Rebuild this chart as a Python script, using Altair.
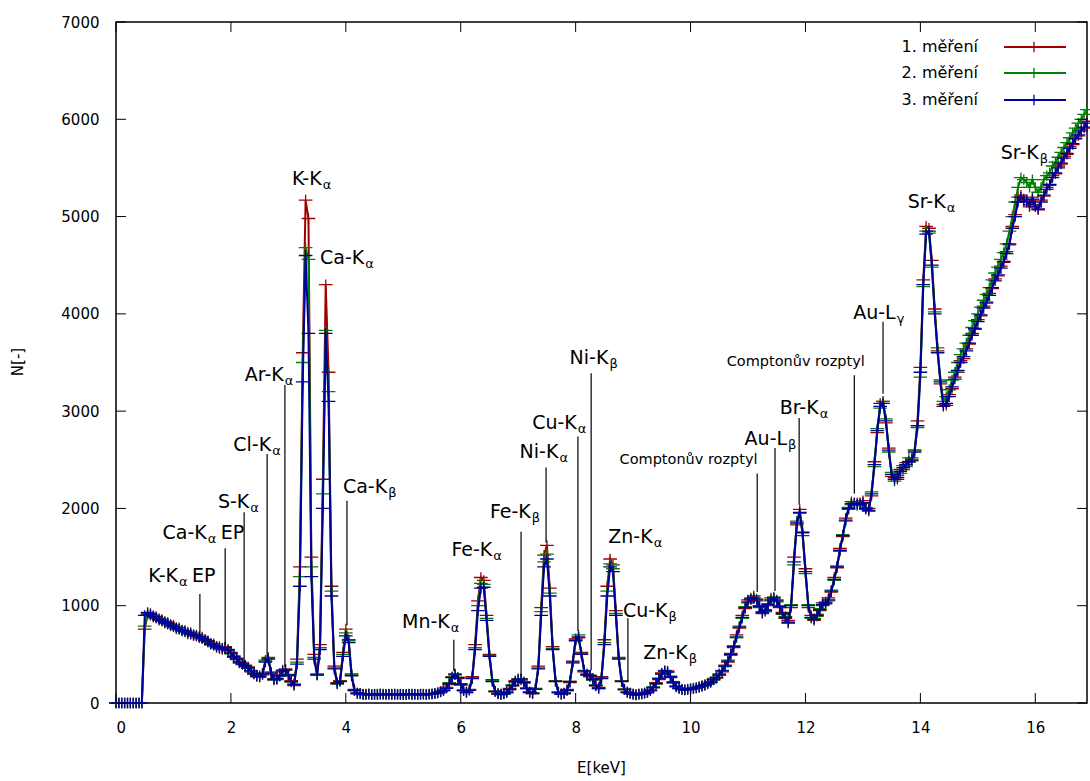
import altair as alt
import pandas as pd

STEP_KEV = 0.05

# 1. měření (red)
counts_1 = [
    0, 0, 0, 0, 0, 0, 0, 0, 0, 0, 760, 910, 920, 880, 890, 850, 860, 820, 830, 790,
    800, 760, 775, 740, 745, 710, 725, 690, 700, 670, 680, 640, 640, 600, 610, 570, 580, 550, 580, 535,
    520, 470, 460, 410, 410, 375, 370, 320, 310, 270, 280, 290, 430, 470, 300, 250, 240, 290, 320, 350,
    280, 230, 180, 450, 1400, 3600, 5170, 4980, 1500, 500, 300, 600, 2300, 4300, 3400, 1200, 380, 210, 230, 520,
    760, 650, 300, 140, 95, 100, 85, 92, 88, 90, 85, 92, 88, 94, 90, 86, 92, 85, 91, 88,
    90, 84, 91, 92, 86, 90, 88, 93, 85, 94, 90, 102, 100, 120, 125, 160, 190, 270, 300, 250,
    200, 125, 115, 140, 270, 600, 1050, 1290, 1260, 900, 500, 240, 115, 100, 85, 100, 105, 150, 175, 230,
    250, 235, 220, 145, 115, 95, 150, 380, 980, 1520, 1620, 1180, 580, 230, 105, 95, 95, 140, 210, 430,
    660, 670, 520, 320, 300, 270, 250, 175, 160, 270, 650, 1200, 1480, 1420, 950, 470, 230, 135, 115, 95,
    95, 80, 95, 90, 105, 105, 135, 155, 210, 240, 310, 320, 330, 260, 220, 165, 155, 135, 140, 135,
    150, 145, 160, 160, 180, 180, 205, 210, 245, 255, 300, 320, 390, 420, 510, 570, 700, 770, 900, 970,
    1060, 1060, 1100, 1050, 1000, 920, 960, 1000, 1080, 1070, 1060, 980, 930, 870, 850, 980, 1500, 1830, 1990, 1720,
    1380, 980, 900, 850, 910, 950, 1030, 1020, 1080, 1140, 1290, 1390, 1590, 1710, 1900, 1990, 2070, 2040, 2060, 2040,
    2080, 1990, 2000, 2130, 2480, 2780, 3080, 3100, 2880, 2620, 2330, 2320, 2300, 2400, 2400, 2470, 2480, 2520, 2600, 2900,
    3450, 4350, 4900, 4880, 4550, 4050, 3620, 3280, 3070, 3060, 3170, 3230, 3350, 3400, 3520, 3540, 3640, 3690, 3800, 3840,
    3940, 3980, 4080, 4110, 4210, 4260, 4360, 4390, 4490, 4530, 4640, 4710, 4900, 5020, 5200, 5220, 5160, 5170, 5100, 5200,
    5120, 5070, 5170, 5210, 5300, 5320, 5420, 5440, 5520, 5540, 5620, 5640, 5720, 5740, 5820, 5830, 5900, 5910, 5980,
]

# 2. měření (green)
counts_2 = [
    0, 0, 0, 0, 0, 0, 0, 0, 0, 0, 790, 920, 900, 900, 870, 870, 840, 840, 810, 810,
    780, 780, 755, 750, 730, 730, 705, 705, 685, 685, 660, 655, 625, 615, 590, 585, 560, 565, 565, 550,
    505, 485, 445, 425, 395, 390, 355, 335, 295, 285, 265, 305, 440, 460, 320, 235, 255, 275, 340, 335,
    295, 215, 195, 420, 1300, 3500, 4680, 4560, 1400, 470, 285, 570, 2150, 3830, 3200, 1150, 360, 195, 225, 500,
    720, 640, 290, 125, 105, 92, 93, 86, 95, 88, 92, 85, 96, 87, 89, 93, 86, 94, 89, 92,
    88, 91, 90, 86, 93, 88, 90, 91, 89, 88, 96, 95, 108, 112, 135, 155, 210, 265, 295, 265,
    185, 135, 105, 135, 260, 570, 1000, 1230, 1220, 870, 490, 230, 125, 92, 95, 92, 115, 135, 185, 215,
    245, 250, 205, 155, 105, 105, 145, 360, 940, 1450, 1530, 1130, 560, 225, 115, 88, 105, 125, 225, 410,
    650, 700, 510, 335, 285, 285, 235, 185, 145, 260, 620, 1150, 1430, 1380, 920, 460, 225, 145, 105, 105,
    88, 88, 87, 98, 98, 115, 125, 165, 195, 255, 295, 335, 315, 275, 205, 175, 145, 145, 130, 145,
    140, 155, 150, 170, 170, 190, 195, 220, 235, 265, 285, 335, 375, 440, 490, 590, 670, 790, 870, 990,
    1030, 1080, 1070, 1070, 980, 940, 940, 1020, 1050, 1090, 1040, 1000, 910, 890, 820, 1010, 1420, 1870, 1950, 1760,
    1330, 1010, 870, 870, 890, 970, 1000, 1040, 1050, 1160, 1260, 1410, 1560, 1730, 1870, 2010, 2040, 2060, 2030, 2060,
    2050, 2010, 1970, 2170, 2430, 2820, 3030, 3100, 2920, 2580, 2370, 2280, 2340, 2360, 2440, 2430, 2520, 2490, 2600, 2830,
    3350, 4280, 4850, 4830, 4480, 4020, 3650, 3320, 3100, 3150, 3220, 3320, 3400, 3500, 3580, 3640, 3700, 3780, 3860, 3930,
    4000, 4070, 4140, 4200, 4270, 4350, 4420, 4480, 4560, 4630, 4720, 4850, 5000, 5150, 5300, 5400, 5380, 5350, 5300, 5380,
    5300, 5250, 5300, 5380, 5420, 5450, 5520, 5560, 5610, 5660, 5710, 5760, 5810, 5860, 5910, 5960, 6000, 6050, 6100,
]

# 3. měření (blue)
counts_3 = [
    0, 0, 0, 0, 0, 0, 0, 0, 0, 0, 900, 930, 910, 890, 875, 860, 845, 830, 815, 800,
    785, 770, 760, 745, 735, 720, 710, 700, 690, 680, 665, 650, 630, 610, 595, 580, 565, 560, 570, 545,
    510, 480, 450, 420, 400, 385, 360, 330, 300, 280, 270, 300, 420, 450, 310, 240, 250, 280, 330, 340,
    290, 220, 190, 400, 1200, 3300, 4600, 3800, 1300, 450, 290, 550, 2000, 3800, 3100, 1100, 350, 200, 220, 480,
    690, 620, 280, 130, 100, 95, 90, 88, 92, 85, 90, 87, 93, 89, 86, 91, 88, 92, 87, 90,
    85, 89, 93, 88, 90, 86, 92, 89, 87, 91, 94, 98, 105, 115, 130, 150, 200, 260, 290, 260,
    190, 130, 110, 130, 250, 550, 950, 1180, 1190, 850, 480, 220, 120, 95, 90, 95, 110, 140, 180, 220,
    240, 245, 210, 150, 110, 100, 140, 350, 900, 1400, 1480, 1100, 550, 220, 110, 90, 100, 130, 220, 420,
    640, 680, 500, 330, 290, 280, 240, 180, 150, 250, 600, 1100, 1400, 1350, 900, 450, 220, 140, 110, 100,
    90, 85, 90, 95, 100, 110, 130, 160, 200, 250, 300, 330, 320, 270, 210, 170, 150, 140, 135, 140,
    145, 150, 155, 165, 175, 185, 200, 215, 240, 260, 290, 330, 380, 430, 500, 580, 680, 780, 880, 980,
    1040, 1070, 1080, 1060, 990, 930, 950, 1010, 1060, 1080, 1050, 990, 920, 880, 830, 1000, 1450, 1850, 1960, 1750,
    1350, 1000, 880, 860, 900, 960, 1010, 1030, 1060, 1150, 1270, 1400, 1570, 1720, 1880, 2000, 2050, 2050, 2040, 2050,
    2060, 2000, 1980, 2150, 2450, 2800, 3050, 3080, 2900, 2600, 2350, 2300, 2320, 2380, 2420, 2450, 2480, 2500, 2580, 2850,
    3400, 4300, 4820, 4850, 4500, 4000, 3600, 3300, 3050, 3080, 3150, 3250, 3330, 3420, 3500, 3560, 3620, 3700, 3780, 3850,
    3920, 3990, 4060, 4120, 4190, 4270, 4340, 4400, 4470, 4540, 4620, 4720, 4880, 5000, 5150, 5200, 5180, 5150, 5120, 5180,
    5100, 5080, 5150, 5220, 5280, 5330, 5400, 5450, 5500, 5550, 5600, 5650, 5700, 5750, 5800, 5840, 5880, 5920, 5960,
]

assert len(counts_1) == len(counts_2) == len(counts_3), (len(counts_1), len(counts_2), len(counts_3))

series_names = ["1. měření", "2. měření", "3. měření"]
series_colors = ["#a00000", "#008000", "#00009a"]

x_ticks = [0, 2, 4, 6, 8, 10, 12, 14, 16]
y_ticks = [0, 1000, 2000, 3000, 4000, 5000, 6000, 7000]

# peak annotations: text before subscript, subscript, text after, anchor (keV), label height (counts)
ann_pre = ["K-K", "Ca-K", "S-K", "Cl-K", "Ar-K", "K-K", "Ca-K", "Ca-K", "Mn-K", "Fe-K", "Fe-K",
           "Ni-K", "Cu-K", "Ni-K", "Zn-K", "Cu-K", "Zn-K", "Au-L", "Br-K", "Au-L", "Sr-K", "Sr-K"]
ann_sub = ["α", "α", "α", "α", "α", "α", "α", "β", "α", "α", "β",
           "α", "α", "β", "α", "β", "β", "β", "α", "γ", "α", "β"]
ann_post = ["EP", "EP", "", "", "", "", "", "", "", "", "",
            "", "", "", "", "", "", "", "", "", "", ""]
ann_x = [1.08, 1.58, 2.32, 2.70, 2.92, 3.58, 4.32, 4.72, 5.81, 6.55, 7.22,
         7.70, 8.02, 8.57, 9.34, 9.60, 9.95, 11.68, 12.23, 13.57, 14.44, 16.06]
ann_y = [1306, 1748, 2066, 2652, 3372, 5387, 4575, 2220, 833, 1573, 1963,
         2580, 2878, 3547, 1706, 946, 514, 2714, 3033, 4009, 5150, 5654]

compton_text = ["Comptonův rozptyl", "Comptonův rozptyl"]
compton_x = [9.965, 11.83]
compton_y = [2498, 3505]

# pointer lines: energy, top, bottom
line_x = [1.46, 1.90, 2.23, 2.63, 2.94, 4.02, 5.88, 7.05, 7.485, 8.04, 8.27, 8.91, 11.16, 11.47, 11.89, 12.85, 13.35]
line_top = [1120, 1590, 1960, 2560, 3270, 2080, 650, 1760, 2420, 2740, 3390, 870, 2360, 2620, 2930, 3370, 3920]
line_bottom = [700, 600, 400, 470, 370, 800, 330, 280, 1650, 740, 340, 220, 1140, 1150, 2040, 2150, 3180]

energy = [round(i * STEP_KEV, 2) for i in range(len(counts_3))]

FONT = "DejaVu Sans"
W, H = 971, 681
X_MAX = 16.9

x_scale = alt.Scale(domain=[0, X_MAX], nice=False, zero=False)
y_scale = alt.Scale(domain=[0, 7000], nice=False, zero=False)
x_axis = alt.Axis(values=x_ticks, ticks=False, domain=False, grid=False, title=None, format="d",
                  labelFont=FONT, labelFontSize=15, labelColor="black", labelPadding=17)
y_axis = alt.Axis(values=y_ticks, ticks=False, domain=False, grid=False, title=None, format="d",
                  labelFont=FONT, labelFontSize=15, labelColor="black", labelPadding=17)


def X(f):
    return alt.X(f, type="quantitative", scale=x_scale, axis=x_axis)


def Y(f):
    return alt.Y(f, type="quantitative", scale=y_scale, axis=y_axis)


PLUS = "M-1.05,0H1.05M0,-0.8V0.8"

layers = []
for name, color, vals in zip(series_names, series_colors, [counts_1, counts_2, counts_3]):
    d = pd.DataFrame({"E": energy, "N": vals, "series": name})
    layers.append(alt.Chart(d).mark_line(color=color, strokeWidth=2).encode(x=X("E"), y=Y("N")))
    layers.append(alt.Chart(d).mark_point(shape=PLUS, size=169, filled=False, color=color,
                                          strokeWidth=1.3, opacity=1).encode(x=X("E"), y=Y("N")))

# pointer lines
lines_df = pd.DataFrame({"lx": line_x, "ly1": line_top, "ly2": line_bottom})
layers.append(alt.Chart(lines_df).mark_rule(color="black", strokeWidth=1.2).encode(
    x=X("lx"), y=Y("ly1"), y2="ly2"))

ann_df = pd.DataFrame({"pre": ann_pre, "sub": ann_sub, "post": ann_post, "ax": ann_x, "ay": ann_y})
ann_df["px"] = ann_df["ax"] + 14 / (W / X_MAX)
layers.append(alt.Chart(ann_df).mark_text(align="right", baseline="middle", font=FONT, fontSize=19,
                                          color="black").encode(x=X("ax"), y=Y("ay"), text="pre:N"))
layers.append(alt.Chart(ann_df).mark_text(align="left", baseline="middle", font=FONT, fontSize=13,
                                          dy=6, dx=1, color="black").encode(x=X("ax"), y=Y("ay"), text="sub:N"))
post_df = ann_df[ann_df["post"] != ""]
layers.append(alt.Chart(post_df).mark_text(align="left", baseline="middle", font=FONT, fontSize=19,
                                           color="black").encode(x=X("px"), y=Y("ay"), text="post:N"))

comp_df = pd.DataFrame({"t": compton_text, "cx": compton_x, "cy": compton_y})
layers.append(alt.Chart(comp_df).mark_text(align="center", baseline="middle", font=FONT, fontSize=14.5,
                                           color="black").encode(x=X("cx"), y=Y("cy"), text="t:N"))

# inward ticks on all four sides
xt = pd.DataFrame({"t": x_ticks})
yt = pd.DataFrame({"t": y_ticks})
layers.append(alt.Chart(xt).mark_rule(color="black", strokeWidth=1).encode(
    x=X("t"), y=alt.value(H), y2=alt.value(H - 10)))
layers.append(alt.Chart(xt).mark_rule(color="black", strokeWidth=1).encode(
    x=X("t"), y=alt.value(0), y2=alt.value(10)))
layers.append(alt.Chart(yt).mark_rule(color="black", strokeWidth=1).encode(
    y=Y("t"), x=alt.value(0), x2=alt.value(10)))
layers.append(alt.Chart(yt).mark_rule(color="black", strokeWidth=1).encode(
    y=Y("t"), x=alt.value(W), x2=alt.value(W - 10)))

# legend (top right, inside)
leg_y = [25, 51, 78]
for name, color, ly in zip(series_names, series_colors, leg_y):
    ld = pd.DataFrame({"name": [name]})
    layers.append(alt.Chart(ld).mark_text(align="right", baseline="middle", font=FONT, fontSize=16,
                                          color="black").encode(x=alt.value(862), y=alt.value(ly), text="name:N"))
    layers.append(alt.Chart(ld).mark_rule(color=color, strokeWidth=2).encode(
        x=alt.value(888), x2=alt.value(950), y=alt.value(ly)))
    layers.append(alt.Chart(ld).mark_point(shape=PLUS, size=169, filled=False, color=color,
                                           strokeWidth=1.3, opacity=1).encode(x=alt.value(918), y=alt.value(ly)))

# axis titles
layers.append(alt.Chart(pd.DataFrame({"t": ["E[keV]"]})).mark_text(
    align="center", baseline="middle", font=FONT, fontSize=15, color="black").encode(
    x=alt.value(W / 2), y=alt.value(746), text="t:N"))
layers.append(alt.Chart(pd.DataFrame({"t": ["N[-]"]})).mark_text(
    align="center", baseline="middle", font=FONT, fontSize=15, color="black", angle=270).encode(
    x=alt.value(-98), y=alt.value(340), text="t:N"))

chart = alt.layer(*layers).properties(
    width=W, height=H,
    autosize=alt.AutoSizeParams(type="none"),
    padding={"left": 116, "top": 22, "right": 3, "bottom": 78},
    background="white",
).configure_view(stroke="black", strokeWidth=1.5)

chart.save("out.html", embed_options={"renderer": "svg", "actions": False})
